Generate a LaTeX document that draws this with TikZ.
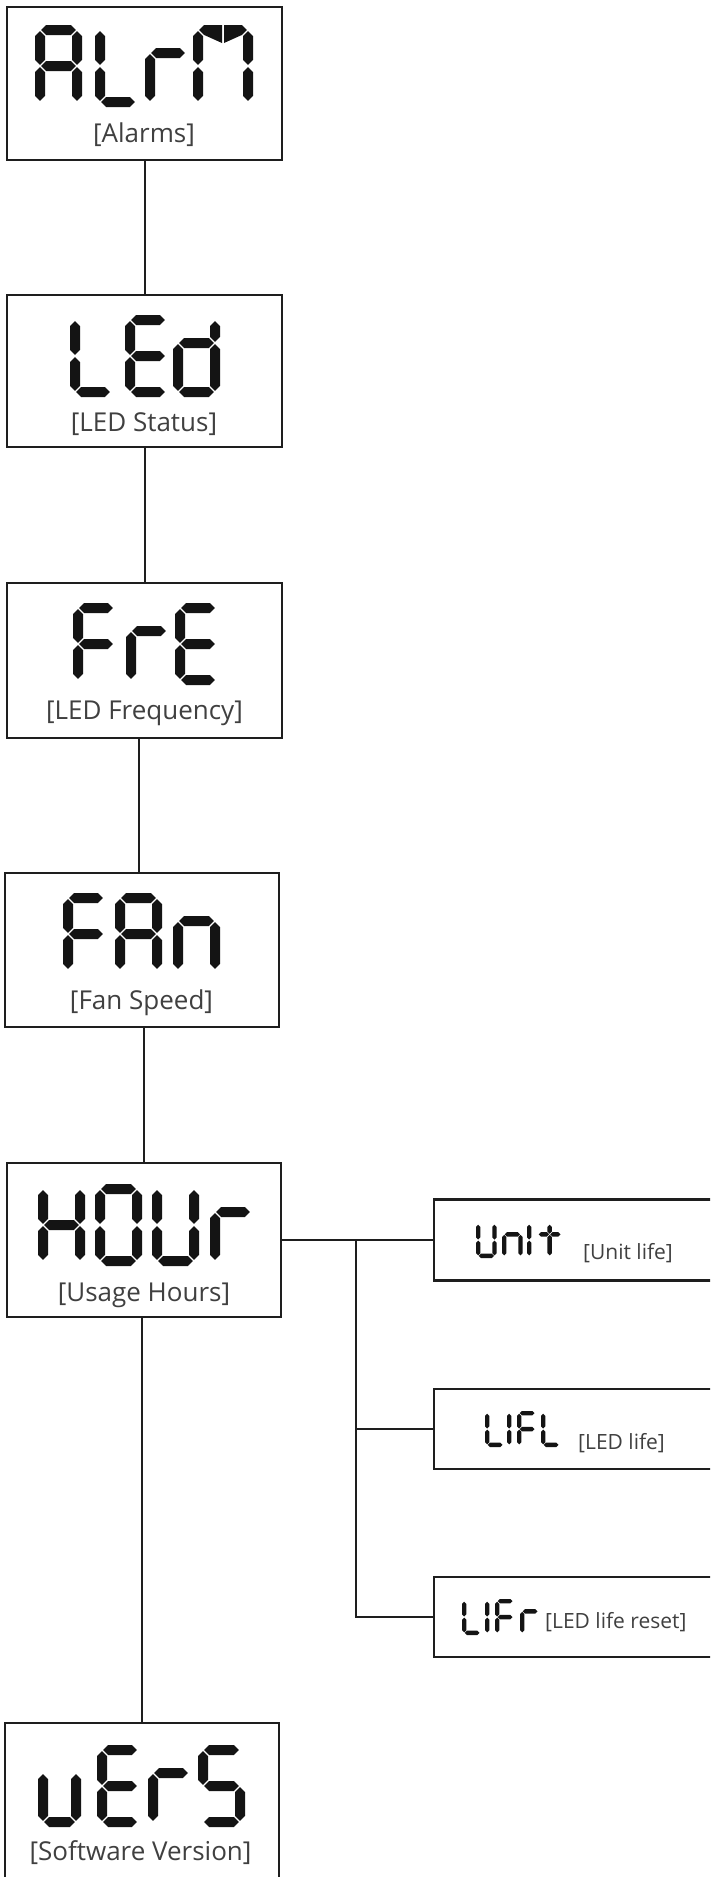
\documentclass[tikz,border=0pt]{standalone}
\usepackage{fontspec}
\setmainfont{Open Sans}
\usetikzlibrary{positioning}
\definecolor{ink}{HTML}{1E1E1E}
\definecolor{segink}{HTML}{141414}
\definecolor{lblgray}{HTML}{404040}
\tikzset{
  menubox/.style={draw=ink,line width=2.2pt,fill=white,inner sep=0pt},
  link/.style={draw=ink,line width=2pt},
  seg/.style={fill=segink},
  lbl/.style={text=lblgray,inner sep=0pt,font=\fontsize{26}{31}\selectfont},
  smalllbl/.style={text=lblgray,inner sep=0pt,anchor=west,
                   font=\fontsize{21}{25}\selectfont}
}
% seven-segment pieces, glyph box 0..W x 0..82
\newcommand\segT{10}
\newcommand\segG{1.2}
\newcommand\segh[3]{\fill[seg] (#1+\segG,#3) -- (#1+\segG+\segT/2,#3-\segT/2)
  -- (#2-\segG-\segT/2,#3-\segT/2) -- (#2-\segG,#3)
  -- (#2-\segG-\segT/2,#3+\segT/2) -- (#1+\segG+\segT/2,#3+\segT/2) -- cycle;}
\newcommand\segv[3]{\fill[seg] (#1,#2+\segG) -- (#1+\segT/2,#2+\segG+\segT/2)
  -- (#1+\segT/2,#3-\segG-\segT/2) -- (#1,#3-\segG)
  -- (#1-\segT/2,#3-\segG-\segT/2) -- (#1-\segT/2,#2+\segG+\segT/2) -- cycle;}
\newcommand\sdA{\segh{5}{42}{5}\segv{5}{5}{41}\segv{5}{41}{77}\segv{42}{5}{41}%
  \segv{42}{41}{77}\segh{5}{42}{41}}
\newcommand\sdL{\segv{5}{5}{41}\segv{5}{41}{77}\segh{5}{41}{77}}
\newcommand\sdr{\segv{5}{28}{77}\segh{5}{41}{28}}
\newcommand\sdM{\segv{5}{5}{41}\segv{5}{41}{77}\segv{55}{5}{41}\segv{55}{41}{77}%
  \fill[seg] (5+\segG,5) -- (10+\segG,0) -- (29,0) -- (29,18) -- (10+\segG,10) -- cycle;
  \fill[seg] (55-\segG,5) -- (50-\segG,0) -- (31,0) -- (31,18) -- (50-\segG,10) -- cycle;}
\newcommand\sdE{\segh{5}{41}{5}\segv{5}{5}{41}\segv{5}{41}{77}\segh{5}{41}{41}%
  \segh{5}{41}{77}}
\newcommand\sdF{\segh{5}{41}{5}\segv{5}{5}{41}\segv{5}{41}{77}\segh{5}{41}{41}}
\newcommand\sdd{\segv{42}{5}{28}\segv{42}{28}{77}\segh{5}{42}{28}\segv{5}{28}{77}%
  \segh{5}{42}{77}}
\newcommand\sdn{\segh{5}{42}{28}\segv{5}{28}{77}\segv{42}{28}{77}}
\newcommand\sdH{\segv{5}{5}{41}\segv{5}{41}{77}\segv{42}{5}{41}\segv{42}{41}{77}%
  \segh{5}{42}{41}}
\newcommand\sdO{\segh{5}{42}{5}\segv{5}{5}{41}\segv{5}{41}{77}\segv{42}{5}{41}%
  \segv{42}{41}{77}\segh{5}{42}{77}}
\newcommand\sdU{\segv{5}{5}{41}\segv{5}{41}{77}\segv{42}{5}{41}\segv{42}{41}{77}%
  \segh{5}{42}{77}}
\newcommand\sdu{\segv{5}{28}{77}\segv{38}{28}{77}\segh{5}{38}{77}}
\newcommand\sdS{\segh{5}{42}{5}\segv{5}{5}{41}\segh{5}{42}{41}\segv{42}{41}{77}%
  \segh{5}{42}{77}}
\newcommand\sdI{\segv{5}{5}{41}\segv{5}{41}{77}}
\newcommand\sdt{\segv{31}{5}{28}\segv{31}{28}{77}\segh{5}{31}{28}\segh{31}{57}{28}}
\newcommand\putglyph[4][1]{\begin{scope}[shift={(#2,#3)},scale=#1]#4\end{scope}}

\begin{document}
\begin{tikzpicture}[x=1pt,y=-1pt]
  \useasboundingbox (0,0) rectangle (710,1877);
  \clip (0,0) rectangle (710,1877);
  \fill[white] (0,0) rectangle (710,1877);

  % menu boxes
  \node[menubox,minimum width=275,minimum height=153] (alrm) at (144.5,83.5) {};
  \node[menubox,minimum width=275,minimum height=152] (led) at (144.5,371) {};
  \node[menubox,minimum width=275,minimum height=155] (fre) at (144.5,660.5) {};
  \node[menubox,minimum width=274,minimum height=154] (fan) at (142,950) {};
  \node[menubox,minimum width=274,minimum height=154] (hour) at (144,1240) {};
  \node[menubox,minimum width=274,minimum height=160] (vers) at (142,1803) {};
  \node[menubox,minimum width=290,minimum height=81] (unit) at (579,1240) {};
  \node[menubox,minimum width=290,minimum height=80] (lifl) at (579,1429) {};
  \node[menubox,minimum width=290,minimum height=80] (lifr) at (579,1617) {};

  % display codes
  \putglyph{35}{25}{\sdA}\putglyph{95}{25}{\sdL}
  \putglyph{145}{25}{\sdr}\putglyph{193}{25}{\sdM}
  \putglyph{70}{315}{\sdL}\putglyph{125}{315}{\sdE}\putglyph{173}{315}{\sdd}
  \putglyph{73}{603}{\sdF}\putglyph{126}{603}{\sdr}\putglyph{175}{603}{\sdE}
  \putglyph{63}{893}{\sdF}\putglyph{115}{893}{\sdA}\putglyph{173}{893}{\sdn}
  \putglyph{38}{1184}{\sdH}\putglyph{95}{1184}{\sdO}
  \putglyph{152}{1184}{\sdU}\putglyph{210}{1184}{\sdr}
  \putglyph{38}{1745}{\sdu}\putglyph{97}{1745}{\sdE}
  \putglyph{148}{1745}{\sdr}\putglyph{198}{1745}{\sdS}
  \putglyph[0.44]{476}{1222}{\sdU}\putglyph[0.44]{502}{1222}{\sdn}
  \putglyph[0.44]{527}{1222}{\sdI}\putglyph[0.44]{536}{1222}{\sdt}
  \putglyph[0.44]{485}{1411}{\sdL}\putglyph[0.44]{507}{1411}{\sdI}
  \putglyph[0.44]{517}{1411}{\sdF}\putglyph[0.44]{541}{1411}{\sdL}
  \putglyph[0.44]{462}{1599}{\sdL}\putglyph[0.44]{485}{1599}{\sdI}
  \putglyph[0.44]{495}{1599}{\sdF}\putglyph[0.44]{520}{1599}{\sdr}

  % captions
  \node[lbl] (alrmtxt) at (144,135) {[Alarms]};
  \node[lbl] (ledtxt) at (144,424) {[LED Status]};
  \node[lbl] (fretxt) at (144.5,713) {[LED Frequency]};
  \node[lbl] (fantxt) at (141.5,1003) {[Fan Speed]};
  \node[lbl] (hourtxt) at (144,1295) {[Usage Hours]};
  \node[lbl] (verstxt) at (140.5,1853) {[Software Version]};
  \node[smalllbl] (unittxt) at (583,1253) {[Unit life]};
  \node[smalllbl] (lifltxt) at (578,1443) {[LED life]};
  \node[smalllbl] (lifrtxt) at (545,1622) {[LED life reset]};

  % connectors
  \draw[link] (alrm) -- (led);
  \draw[link] (led) -- (fre);
  \draw[link] ([xshift=-5.5pt]fre.south) -- ([xshift=-3pt]fan.north);
  \draw[link] ([xshift=2pt]fan.south) -- (hour.north);
  \draw[link] ([xshift=-2pt]hour.south) -- (vers.north);
  \draw[link] (hour.east) -- (unit.west);
  \coordinate (branch) at (356,1240);
  \draw[link] (branch) |- (lifr.west);
  \draw[link] (branch |- lifl.west) -- (lifl.west);
\end{tikzpicture}
\end{document}
